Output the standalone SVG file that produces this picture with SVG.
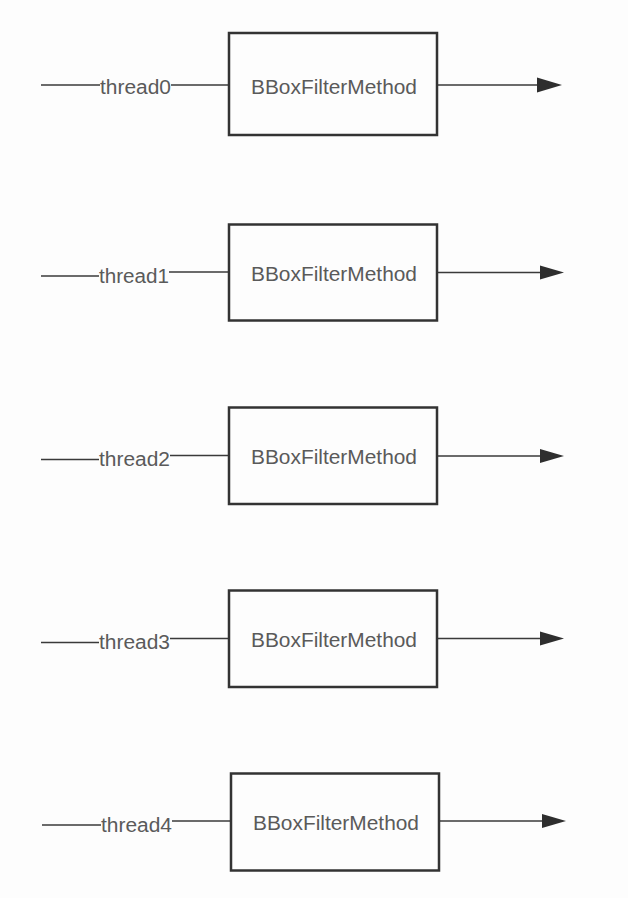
<svg xmlns="http://www.w3.org/2000/svg" width="628" height="898" viewBox="0 0 628 898">
<style>
.box{fill:none;stroke:#333;stroke-width:2.5}
.ln{fill:none;stroke:#3a3a3a;stroke-width:1.6}
.hd{fill:#2e2e2e}
.lbl{font-family:"Liberation Sans","Noto Sans",Arial,sans-serif;font-size:20px;fill:#5a5a5a}
.bt{font-family:"Liberation Sans","Noto Sans",Arial,sans-serif;font-size:20px;fill:#5a5a5a}
</style>
<rect width="628" height="898" fill="#fdfdfd"/>
<g id="connectors">
<line class="ln" x1="41" y1="85" x2="100" y2="85"/>
<line class="ln" x1="171" y1="85" x2="229" y2="85"/>
<line class="ln" x1="437" y1="85" x2="538" y2="85"/>
<polygon class="hd" points="537,77.5 562,85 537,92.5"/>
<line class="ln" x1="41" y1="276" x2="99" y2="276"/>
<line class="ln" x1="169" y1="272" x2="229" y2="272"/>
<line class="ln" x1="437" y1="272.5" x2="541" y2="272.5"/>
<polygon class="hd" points="540,265.5 564,272.5 540,279.5"/>
<line class="ln" x1="41" y1="459.5" x2="99" y2="459.5"/>
<line class="ln" x1="170" y1="455.5" x2="229" y2="455.5"/>
<line class="ln" x1="437" y1="456" x2="541" y2="456"/>
<polygon class="hd" points="540,449 564,456 540,463"/>
<line class="ln" x1="41" y1="642.5" x2="99" y2="642.5"/>
<line class="ln" x1="170" y1="638.5" x2="229" y2="638.5"/>
<line class="ln" x1="437" y1="638.5" x2="541" y2="638.5"/>
<polygon class="hd" points="540,631.5 564,638.5 540,645.5"/>
<line class="ln" x1="42" y1="825" x2="101" y2="825"/>
<line class="ln" x1="172" y1="821" x2="231" y2="821"/>
<line class="ln" x1="439" y1="821" x2="543" y2="821"/>
<polygon class="hd" points="542,814 566,821 542,828"/>
<text class="lbl" x="100" y="94" textLength="71" lengthAdjust="spacingAndGlyphs">thread0</text>
<text class="lbl" x="99" y="283" textLength="70" lengthAdjust="spacingAndGlyphs">thread1</text>
<text class="lbl" x="99" y="466" textLength="71" lengthAdjust="spacingAndGlyphs">thread2</text>
<text class="lbl" x="99" y="649" textLength="71" lengthAdjust="spacingAndGlyphs">thread3</text>
<text class="lbl" x="101" y="832" textLength="71" lengthAdjust="spacingAndGlyphs">thread4</text>
</g>
<g id="node0"><rect class="box" x="229" y="33" width="208" height="102"/><text class="bt" x="251" y="94" textLength="166" lengthAdjust="spacingAndGlyphs">BBoxFilterMethod</text></g>
<g id="node1"><rect class="box" x="229" y="224.5" width="208" height="96"/><text class="bt" x="251" y="280.5" textLength="166" lengthAdjust="spacingAndGlyphs">BBoxFilterMethod</text></g>
<g id="node2"><rect class="box" x="229" y="407.5" width="208" height="96.5"/><text class="bt" x="251" y="463.5" textLength="166" lengthAdjust="spacingAndGlyphs">BBoxFilterMethod</text></g>
<g id="node3"><rect class="box" x="229" y="590.5" width="208" height="96.5"/><text class="bt" x="251" y="646.5" textLength="166" lengthAdjust="spacingAndGlyphs">BBoxFilterMethod</text></g>
<g id="node4"><rect class="box" x="231" y="773.5" width="208" height="97"/><text class="bt" x="253" y="829.5" textLength="166" lengthAdjust="spacingAndGlyphs">BBoxFilterMethod</text></g>
</svg>
